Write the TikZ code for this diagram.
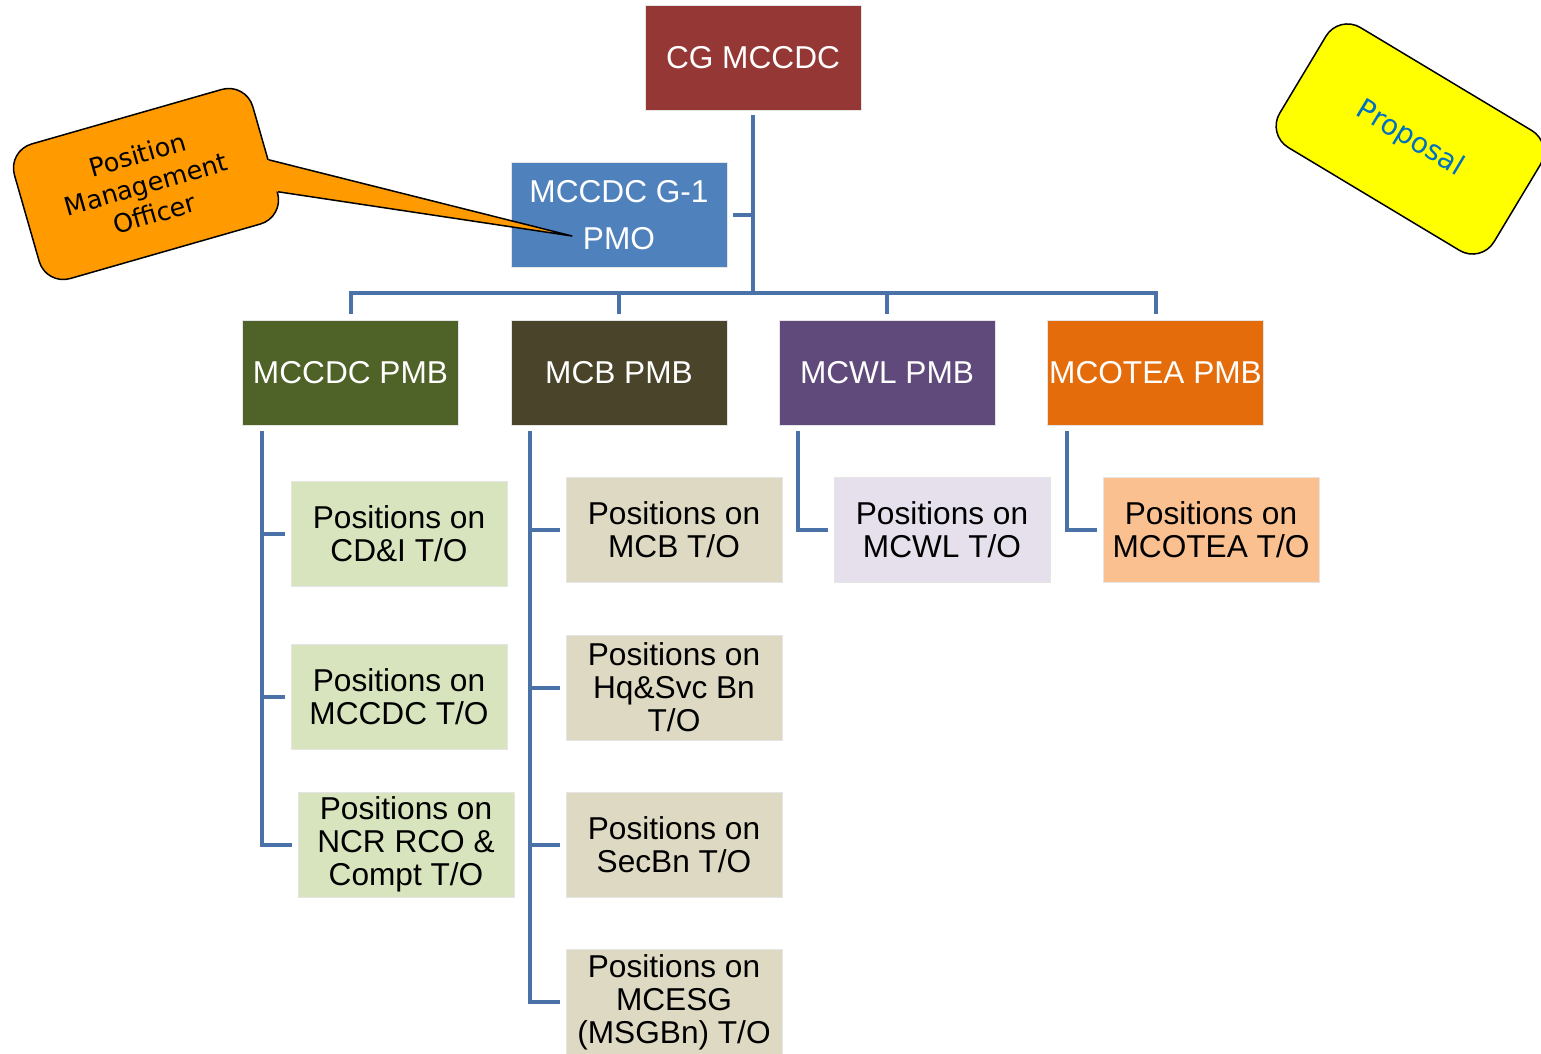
\documentclass[tikz,border=0pt]{standalone}
\usepackage{fontspec}
\setmainfont{Liberation Sans}
\newfontfamily\notefont{DejaVu Sans}
\usetikzlibrary{calc}
\definecolor{cgcol}{HTML}{953735}
\definecolor{gonecol}{HTML}{4F81BD}
\definecolor{pmbgreen}{HTML}{4F6228}
\definecolor{pmbbrown}{HTML}{4A452A}
\definecolor{pmbpurple}{HTML}{604A7B}
\definecolor{pmborange}{HTML}{E46C0A}
\definecolor{togreen}{HTML}{D7E4BD}
\definecolor{tobrown}{HTML}{DDD9C3}
\definecolor{topurple}{HTML}{E5E0EC}
\definecolor{toorange}{HTML}{FAC090}
\definecolor{linecol}{HTML}{4A72A8}
\definecolor{notecol}{HTML}{FF9A00}
\definecolor{propfill}{HTML}{FFFF00}
\definecolor{propcol}{HTML}{0070C0}
\begin{document}
\begin{tikzpicture}[x=0.02cm, y=-0.02cm,
  box/.style={minimum width=4.32cm, minimum height=2.1cm, inner sep=0pt,
    align=center, font=\fontsize{18}{18.8}\selectfont, draw=white!80!gray, line width=0.3pt},
  head/.style={box, text=white},
  tobox/.style={box, text=black},
  orgline/.style={draw=linecol, line width=0.08cm},
  note/.style={draw=black, line width=0.85pt, rounded corners=0.5cm, align=center}]
\useasboundingbox (0,0) rectangle (1541,1054);

% top of the chart
\node[head, fill=cgcol] (cg) at (753,57.5) {CG MCCDC};
\node[head, fill=gonecol, font=\fontsize{18}{26.5}\selectfont] (gone) at (619,215) {MCCDC G-1\\PMO};

\node[head, fill=pmbgreen] (mccdcpmb) at (350.5,372.5) {MCCDC PMB};
\node[head, fill=pmbbrown] (mcbpmb) at (619,372.5) {MCB PMB};
\node[head, fill=pmbpurple] (mcwlpmb) at (887,372.5) {MCWL PMB};
\node[head, fill=pmborange] (coteapmb) at (1155.5,372.5) {MCOTEA PMB};

% tables of organization
\node[tobox, fill=togreen] (cdi) at (399,533.5) {Positions on\\CD\&I T/O};
\node[tobox, fill=togreen] (mccdcto) at (399,696.5) {Positions on\\MCCDC T/O};
\node[tobox, fill=togreen] (ncr) at (406,844.5) {Positions on\\NCR RCO \&\\Compt T/O};

\node[tobox, fill=tobrown] (mcbto) at (674,529.5) {Positions on\\MCB T/O};
\node[tobox, fill=tobrown] (hqsvc) at (674,687.5) {Positions on\\Hq\&Svc Bn\\T/O};
\node[tobox, fill=tobrown] (secbn) at (674,844.5) {Positions on\\SecBn T/O};
\node[tobox, fill=tobrown] (mcesg) at (674,1002) {Positions on\\MCESG\\(MSGBn) T/O};

\node[tobox, fill=topurple] (mcwlto) at (942,529.5) {Positions on\\MCWL T/O};
\node[tobox, fill=toorange] (coteato) at (1211,529.5) {Positions on\\MCOTEA T/O};

% connectors
\coordinate (bus) at (753,293);
\draw[orgline] ([yshift=-0.1cm]cg.south) -- (bus);
\draw[orgline] ([xshift=0.12cm]gone.east) -- (gone.east -| bus);
\draw[orgline] ([yshift=0.12cm]mccdcpmb.north) |- (bus) -| ([yshift=0.12cm]coteapmb.north);
\foreach \n in {mcbpmb,mcwlpmb}
\draw[orgline] (\n.north |- bus) -- ([yshift=0.12cm]\n.north);

\coordinate (cone) at ([shift={(20,6)}]mccdcpmb.south west);
\coordinate (ctwo) at ([shift={(19,6)}]mcbpmb.south west);
\coordinate (cthree) at ([shift={(19,6)}]mcwlpmb.south west);
\coordinate (cfour) at ([shift={(20,6)}]coteapmb.south west);
\draw[orgline] (cone) |- ([xshift=-0.12cm]ncr.west);
\foreach \n in {cdi,mccdcto}
\draw[orgline] (cone |- \n.west) -- ([xshift=-0.12cm]\n.west);
\draw[orgline] (ctwo) |- ([xshift=-0.12cm]mcesg.west);
\foreach \n in {mcbto,hqsvc,secbn}
\draw[orgline] (ctwo |- \n.west) -- ([xshift=-0.12cm]\n.west);
\draw[orgline] (cthree) |- ([xshift=-0.12cm]mcwlto.west);
\draw[orgline] (cfour) |- ([xshift=-0.12cm]coteato.west);

% callout
\node[note, fill=notecol, rotate=16, minimum width=4.96cm, minimum height=2.8cm,
  font=\notefont\fontsize{14.5}{17.5}\selectfont] (pmo) at (146,184) {Position\\Management\\Officer};
\coordinate (tip) at ([shift={(-47,21)}]gone.center);
\coordinate (pa) at ($(pmo.east)!0.15!(pmo.south east)$);
\coordinate (pb) at ($(pmo.east)!0.62!(pmo.south east)$);
\fill[notecol] ($(pa)!0.1cm!(pmo.center)$) -- (pa) -- (tip) -- (pb) -- ($(pb)!0.1cm!(pmo.center)$) -- cycle;
\draw[line width=0.85pt, line join=round] (pa) -- (tip) -- (pb);

\node[note, fill=propfill, rotate=-31, minimum width=5cm, minimum height=2.8cm, text=propcol,
  font=\notefont\fontsize{16}{18}\selectfont] (prop) at (1410,139) {Proposal};
\end{tikzpicture}
\end{document}
